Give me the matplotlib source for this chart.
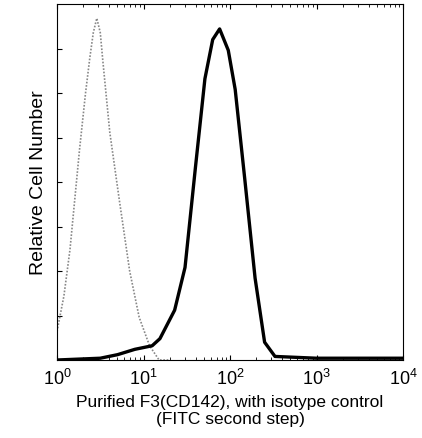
import matplotlib
matplotlib.use("Agg")
import matplotlib.pyplot as plt
import numpy as np

plt.rcParams['font.family'] = ['Liberation Sans', 'DejaVu Sans']

# log10 intensity, relative height
iso_x = [0.0, 0.08, 0.15, 0.26, 0.33, 0.38, 0.42, 0.46, 0.50, 0.53, 0.61, 0.72, 0.84, 0.95, 1.07, 1.18, 1.3]
iso_y = [0.08, 0.18, 0.31, 0.59, 0.75, 0.85, 0.92, 0.96, 0.92, 0.84, 0.64, 0.45, 0.25, 0.12, 0.04, 0.0, 0.0]
f3_x = [0.0, 0.5, 0.7, 0.9, 1.1, 1.19, 1.36, 1.48, 1.6, 1.71, 1.80, 1.88, 1.98, 2.06, 2.17, 2.29, 2.40, 2.52, 3.0, 4.0]
f3_y = [0.0, 0.005, 0.015, 0.03, 0.04, 0.06, 0.14, 0.26, 0.54, 0.79, 0.90, 0.93, 0.87, 0.76, 0.51, 0.23, 0.05, 0.01, 0.005, 0.005]

fig = plt.figure(figsize=(4.22, 4.39), dpi=100)
ax = fig.add_axes([57/422, 78/439, 346/422, 356/439])
ax.plot(10**np.array(iso_x), iso_y, color="#888888", lw=1.2, ls=(0, (1, 1)))
ax.plot(10**np.array(f3_x), f3_y, color="black", lw=2.4)
ax.set_xscale("log")
ax.set_xlim(1, 1e4)
ax.set_ylim(0, 1)
ax.set_yticks(np.linspace(0, 1, 9)[1:-1])
ax.set_yticklabels([])
ax.tick_params(which="both", direction="in", top=True, right=False)
ax.tick_params(axis="x", labelsize=13, pad=6)
ax.set_ylabel("Relative Cell Number", fontsize=14)
ax.set_xlabel("Purified F3(CD142), with isotype control\n(FITC second step)", fontsize=12.5)
fig.savefig("out.png", dpi=100)
